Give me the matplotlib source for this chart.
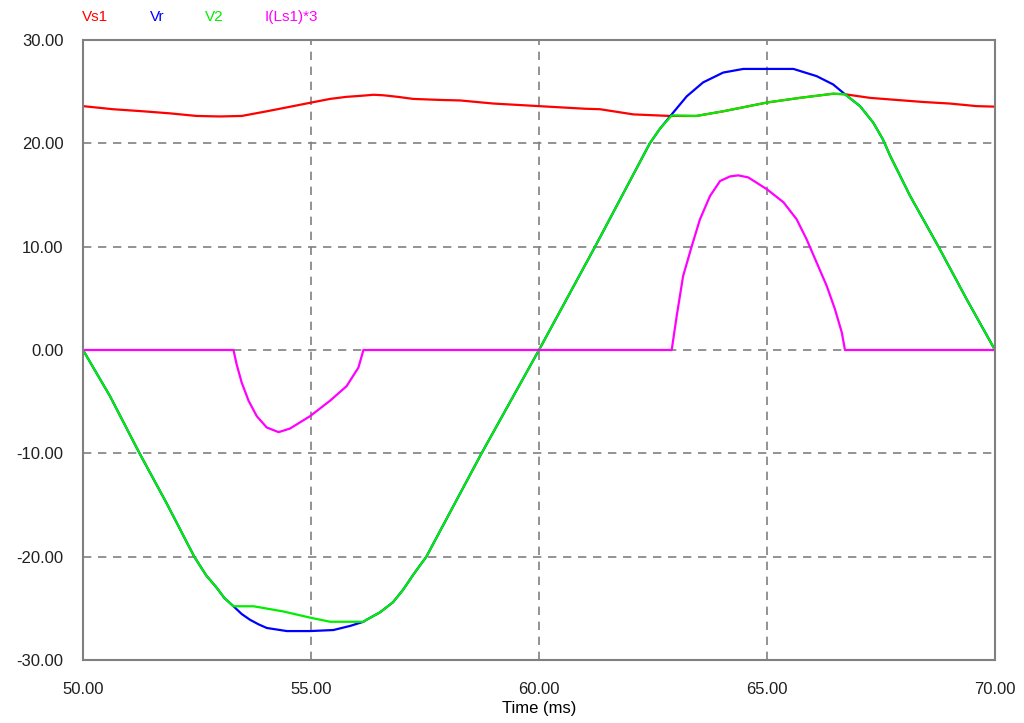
import matplotlib as mpl
import matplotlib.pyplot as plt

plt.rcParams["font.family"] = ["Liberation Sans", "DejaVu Sans"]

# Vs1 (red)
t_vs1 = [50.0, 50.66, 51.32, 51.91, 52.49, 53.0, 53.48, 54.03, 54.61, 55.01, 55.42, 55.78,
         56.1, 56.37, 56.59, 56.9, 57.24, 57.83, 58.27, 59.0, 60.0, 61.0, 61.34, 62.07, 62.87,
         63.45, 64.04, 65.0, 65.72, 66.45, 66.71, 67.26, 67.84, 68.43, 69.01, 69.6, 70.0]
v_vs1 = [23.6, 23.3, 23.1, 22.9, 22.65, 22.6, 22.65, 23.1, 23.6, 23.95, 24.3, 24.5,
         24.6, 24.7, 24.65, 24.5, 24.3, 24.2, 24.15, 23.85, 23.6, 23.35, 23.3, 22.8, 22.65,
         22.65, 23.1, 23.95, 24.4, 24.8, 24.75, 24.4, 24.2, 24.0, 23.85, 23.6, 23.55]

# Vr (blue)
t_vr = [50.0, 50.59, 51.24, 51.83, 52.44, 52.7, 52.93, 53.1, 53.3, 53.48, 53.66, 53.85,
        54.03, 54.47, 54.98, 55.49, 55.86, 56.15, 56.22, 56.51, 56.8, 57.02, 57.25, 57.53,
        58.74, 60.0, 61.23, 62.43, 62.65, 62.91, 63.24, 63.6, 64.04, 64.48, 65.0, 65.58,
        66.09, 66.45, 66.71, 67.04, 67.33, 67.54, 67.7, 68.14, 68.76, 69.38, 70.0]
v_vr = [0.0, -4.45, -10.0, -14.8, -20.0, -21.8, -23.0, -24.0, -24.8, -25.55, -26.1, -26.55,
        -26.9, -27.2, -27.2, -27.1, -26.7, -26.3, -26.1, -25.4, -24.4, -23.2, -21.7, -20.0,
        -10.0, 0.0, 10.0, 20.0, 21.4, 22.8, 24.55, 25.9, 26.85, 27.2, 27.2, 27.2,
        26.5, 25.7, 24.75, 23.6, 22.0, 20.4, 18.8, 14.9, 10.0, 4.9, 0.0]

# V2 (green)
t_v2 = [50.0, 50.59, 51.24, 51.83, 52.44, 52.7, 52.93, 53.1, 53.3, 53.74, 54.39, 54.98,
        55.42, 56.15, 56.22, 56.51, 56.8, 57.02, 57.25, 57.53, 58.74, 60.0, 61.23, 62.43,
        62.65, 62.91, 63.45, 64.04, 65.0, 65.72, 66.45, 66.71, 67.04, 67.33, 67.54, 67.7,
        68.14, 68.76, 69.38, 70.0]
v_v2 = [0.0, -4.45, -10.0, -14.8, -20.0, -21.8, -23.0, -24.0, -24.8, -24.8, -25.3, -25.9,
        -26.3, -26.3, -26.1, -25.4, -24.4, -23.2, -21.7, -20.0, -10.0, 0.0, 10.0, 20.0,
        21.4, 22.7, 22.65, 23.1, 23.95, 24.4, 24.8, 24.75, 23.6, 22.0, 20.4, 18.8,
        14.9, 10.0, 4.9, 0.0]

# I(Ls1)*3 (magenta)
t_i = [50.0, 53.3, 53.37, 53.48, 53.63, 53.81, 54.03, 54.29, 54.54, 54.98, 55.42, 55.78,
       56.04, 56.15, 62.91, 63.02, 63.16, 63.35, 63.53, 63.75, 63.97, 64.19, 64.37, 64.59,
       65.0, 65.36, 65.65, 65.87, 66.09, 66.31, 66.49, 66.64, 66.71, 70.0]
v_i = [0.0, 0.0, -1.4, -3.15, -4.9, -6.4, -7.5, -7.95, -7.6, -6.4, -4.9, -3.5,
       -1.7, 0.0, 0.0, 3.3, 7.15, 10.05, 12.65, 14.9, 16.35, 16.8, 16.9, 16.7,
       15.55, 14.3, 12.65, 10.7, 8.45, 6.2, 3.95, 1.7, 0.0, 0.0]

x_ticks = [50, 55, 60, 65, 70]
y_ticks = [-30, -20, -10, 0, 10, 20, 30]

fig = plt.figure(figsize=(10.24, 7.23), dpi=100)
ax = fig.add_axes([83/1024, 63/723, 912/1024, 620/723])

ax.plot(t_vs1, v_vs1, color='#ff0000', lw=1.6)
ax.plot(t_vr, v_vr, color='#0000ff', lw=1.6)
ax.plot(t_v2, v_v2, color='#00ee00', lw=1.6)
ax.plot(t_i, v_i, color='#ff00ff', lw=1.6)

ax.set_xlim(50, 70)
ax.set_ylim(-30, 30)
ax.set_xticks(x_ticks)
ax.set_yticks(y_ticks)
ax.set_xticklabels(['%.2f' % v for v in x_ticks], fontsize=12)
ax.set_yticklabels(['%.2f' % v for v in y_ticks], fontsize=12)
ax.tick_params(length=0, colors='#202020')
ax.tick_params(axis='x', pad=16)
ax.tick_params(axis='y', pad=14)
ax.grid(True, color='#808080', ls=(0, (5, 4)), lw=1.2)
for s in ax.spines.values():
    s.set_color('#808080')
    s.set_linewidth(1.5)
ax.set_xlabel('Time (ms)', fontsize=12, labelpad=3)

legend_names = ['Vs1', 'Vr', 'V2', 'I(Ls1)*3']
legend_colors = ['#ff0000', '#0000ff', '#00ee00', '#ff00ff']
legend_x = [82, 150, 205, 265]
for name, c, x in zip(legend_names, legend_colors, legend_x):
    fig.text(x/1024, 1 - 17/723, name, color=c, fontsize=11, va='center', ha='left')

fig.savefig('out.png', dpi=100)
